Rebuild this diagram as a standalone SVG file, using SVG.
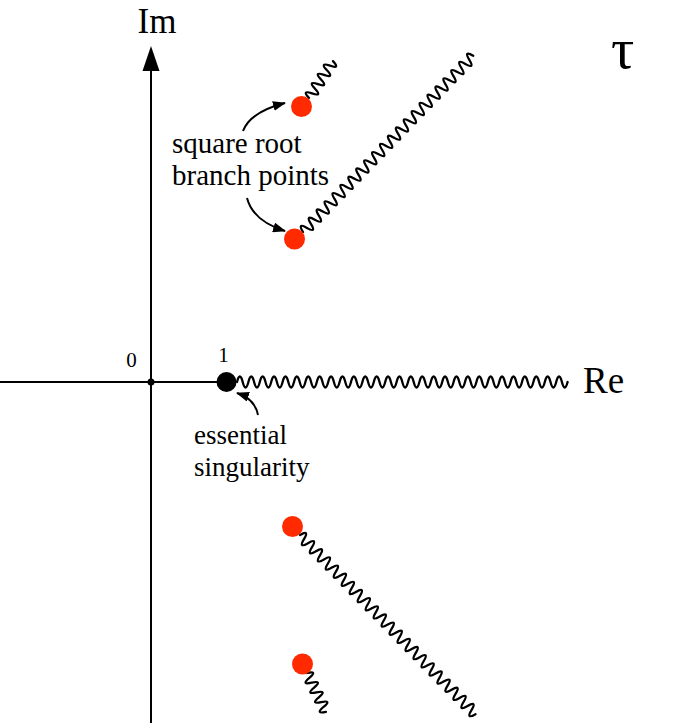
<svg xmlns="http://www.w3.org/2000/svg" width="675" height="723" viewBox="0 0 675 723">
<style>
.ax{stroke:#000;stroke-width:2;fill:none}
.wave{stroke:#000;stroke-width:2.3;fill:none;stroke-linecap:round;stroke-linejoin:round}
.arr{stroke:#000;stroke-width:2;fill:none}
.bp{fill:#ff2a00}
.t{font-family:"Liberation Serif","Times New Roman",serif;fill:#000}
</style>
<defs>
<marker id="ah" markerUnits="userSpaceOnUse" markerWidth="13" markerHeight="10" refX="12" refY="5" orient="auto">
<path d="M0,0 L13,5 L0,10 z" fill="#000"/>
</marker>
</defs>
<rect width="675" height="723" fill="#fff"/>
<g id="axes">
<line class="ax" x1="151" y1="723" x2="151" y2="68"/>
<polygon points="151,46 142.5,71 159.5,71" fill="#000"/>
<line class="ax" x1="0" y1="382" x2="226" y2="382"/>
<circle cx="151" cy="382" r="3.5" fill="#000"/>
<text class="t" x="157" y="33" font-size="35" text-anchor="middle">Im</text>
<text class="t" x="583" y="393" font-size="37">Re</text>
<text class="t" x="131.5" y="367" font-size="21" text-anchor="middle">0</text>
<text class="t" x="223.5" y="362" font-size="21" text-anchor="middle">1</text>
<text class="t" x="611" y="68" font-size="58">τ</text>
</g>
<g id="cuts">
<path class="wave" transform="translate(237,382)" d="M0,0 q2.85,-11 5.7,0 t5.7,0 t5.7,0 t5.7,0 t5.7,0 t5.7,0 t5.7,0 t5.7,0 t5.7,0 t5.7,0 t5.7,0 t5.7,0 t5.7,0 t5.7,0 t5.7,0 t5.7,0 t5.7,0 t5.7,0 t5.7,0 t5.7,0 t5.7,0 t5.7,0 t5.7,0 t5.7,0 t5.7,0 t5.7,0 t5.7,0 t5.7,0 t5.7,0 t5.7,0 t5.7,0 t5.7,0 t5.7,0 t5.7,0 t5.7,0 t5.7,0 t5.7,0 t5.7,0 t5.7,0 t5.7,0 t5.7,0 t5.7,0 t5.7,0 t5.7,0 t5.7,0 t5.7,0 t5.7,0 t5.7,0 t5.7,0 t5.7,0 t5.7,0 t5.7,0 t5.7,0 t5.7,0 t5.7,0 t5.7,0 t5.7,0 t5.7,0"/>
<path class="wave" transform="translate(303,232) rotate(-46)" d="M0,0 q2.85,-11 5.7,0 t5.7,0 t5.7,0 t5.7,0 t5.7,0 t5.7,0 t5.7,0 t5.7,0 t5.7,0 t5.7,0 t5.7,0 t5.7,0 t5.7,0 t5.7,0 t5.7,0 t5.7,0 t5.7,0 t5.7,0 t5.7,0 t5.7,0 t5.7,0 t5.7,0 t5.7,0 t5.7,0 t5.7,0 t5.7,0 t5.7,0 t5.7,0 t5.7,0 t5.7,0 t5.7,0 t5.7,0 t5.7,0 t5.7,0 t5.7,0 t5.7,0 t5.7,0 t5.7,0 t5.7,0 t5.7,0 t5.7,0 t5.7,0 t5.7,0"/>
<path class="wave" transform="translate(309,98) rotate(-57)" d="M0,0 q2.75,-11 5.5,0 t5.5,0 t5.5,0 t5.5,0 t5.5,0 t5.5,0 t5.5,0 t5.5,0"/>
<path class="wave" transform="translate(300,535) rotate(45.6)" d="M0,0 q2.85,-11 5.7,0 t5.7,0 t5.7,0 t5.7,0 t5.7,0 t5.7,0 t5.7,0 t5.7,0 t5.7,0 t5.7,0 t5.7,0 t5.7,0 t5.7,0 t5.7,0 t5.7,0 t5.7,0 t5.7,0 t5.7,0 t5.7,0 t5.7,0 t5.7,0 t5.7,0 t5.7,0 t5.7,0 t5.7,0 t5.7,0 t5.7,0 t5.7,0 t5.7,0 t5.7,0 t5.7,0 t5.7,0 t5.7,0 t5.7,0 t5.7,0 t5.7,0 t5.7,0 t5.7,0 t5.7,0 t5.7,0 t5.7,0 t5.7,0 t5.7,0 t5.7,0"/>
<path class="wave" transform="translate(307,673) rotate(64)" d="M0,0 q2.7,-11 5.4,0 t5.4,0 t5.4,0 t5.4,0 t5.4,0 t5.4,0 t5.4,0 t5.4,0"/>
</g>
<g id="connectors">
<path class="arr" d="M243,131 Q250,112 285,103" marker-end="url(#ah)"/>
<path class="arr" d="M247,198 Q253,221 285,231" marker-end="url(#ah)"/>
<path class="arr" d="M258,415 Q255,399 237,393" marker-end="url(#ah)"/>
</g>
<g id="bp1"><circle class="bp" cx="301.5" cy="106.5" r="10.5"/></g>
<g id="bp2"><circle class="bp" cx="294.5" cy="239" r="10.5"/></g>
<g id="bp3"><circle class="bp" cx="292.5" cy="526.5" r="10.5"/></g>
<g id="bp4"><circle class="bp" cx="302.5" cy="664" r="10.5"/></g>
<g id="ess"><circle cx="226.5" cy="382" r="10" fill="#000"/></g>
<g id="label-branch">
<text class="t" x="172" y="153" font-size="29">square root</text>
<text class="t" x="172" y="185" font-size="29">branch points</text>
</g>
<g id="label-ess">
<text class="t" x="194" y="444" font-size="27">essential</text>
<text class="t" x="194" y="476" font-size="27">singularity</text>
</g>
</svg>
